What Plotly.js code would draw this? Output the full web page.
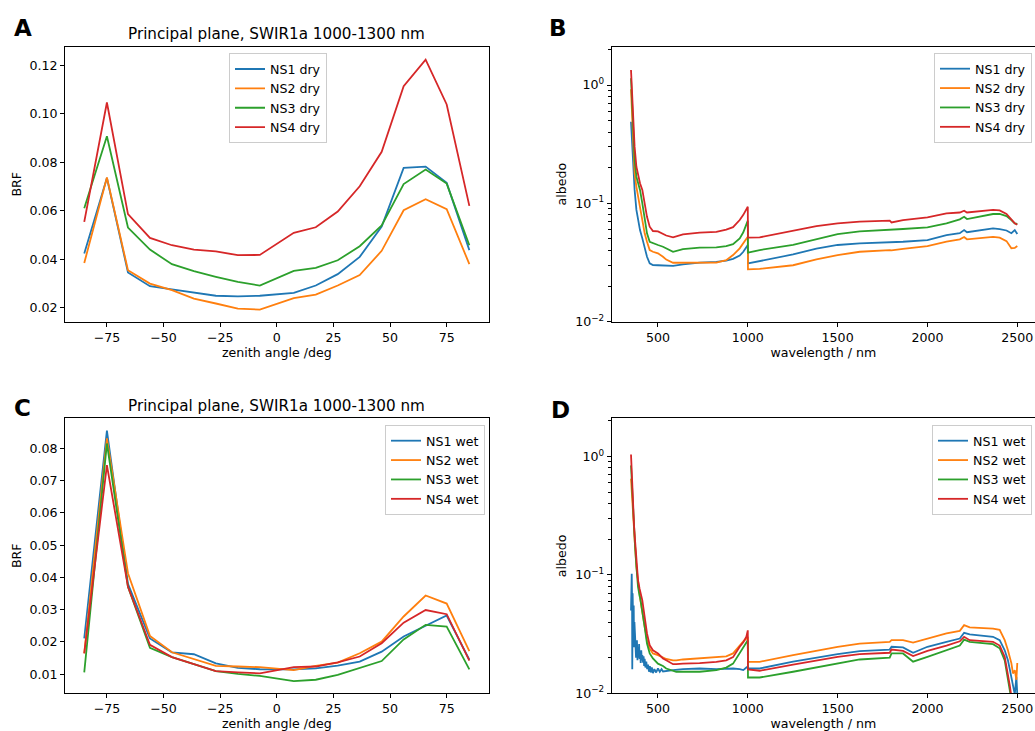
<!DOCTYPE html>
<html>
<head>
<meta charset="utf-8">
<script src="https://cdn.plot.ly/plotly-3.0.1.min.js"></script>
<style>
  html, body { margin: 0; padding: 0; background: #fff; }
  #chart { width: 1035px; height: 731px; }
</style>
</head>
<body>
<div id="chart"></div>
<script>
// ---------- Panel A / C : principal plane BRF ----------
const zenithAngle = [-85, -75, -65.7, -56, -46.3, -36.6, -26.9, -17.2, -7.5, 7.5, 17.2, 26.9, 36.6, 46.3, 56, 65.7, 75, 85];

const ns1Dry = [0.0424, 0.0735, 0.0346, 0.0289, 0.0276, 0.0262, 0.0250, 0.0247, 0.0250, 0.0262, 0.0292, 0.0339, 0.0410, 0.0535, 0.0777, 0.0782, 0.0715, 0.0438];
const ns2Dry = [0.0385, 0.0737, 0.0355, 0.0300, 0.0273, 0.0238, 0.0218, 0.0197, 0.0193, 0.0240, 0.0255, 0.0292, 0.0335, 0.0435, 0.0602, 0.0648, 0.0607, 0.0380];
const ns3Dry = [0.0610, 0.0907, 0.0531, 0.0440, 0.0380, 0.0351, 0.0328, 0.0307, 0.0292, 0.0352, 0.0365, 0.0396, 0.0454, 0.0540, 0.0710, 0.0770, 0.0712, 0.0458];
const ns4Dry = [0.0554, 0.1046, 0.0586, 0.0488, 0.0458, 0.0440, 0.0433, 0.0417, 0.0418, 0.0509, 0.0532, 0.0597, 0.0701, 0.0843, 0.1113, 0.1223, 0.1038, 0.0620];

const ns1Wet = [0.0211, 0.0855, 0.0380, 0.0211, 0.0168, 0.0162, 0.0134, 0.0120, 0.01155, 0.0115, 0.0118, 0.0127, 0.0139, 0.0170, 0.0217, 0.0250, 0.0282, 0.0145];
const ns2Wet = [0.0165, 0.0831, 0.0413, 0.0219, 0.0168, 0.0147, 0.0126, 0.0124, 0.0122, 0.0113, 0.0126, 0.0136, 0.0165, 0.0201, 0.0279, 0.0344, 0.0319, 0.0172];
const ns3Wet = [0.0106, 0.0815, 0.0371, 0.0182, 0.0153, 0.0131, 0.0110, 0.0101, 0.0095, 0.0079, 0.0083, 0.0098, 0.0119, 0.0141, 0.0208, 0.0253, 0.0248, 0.0115];
const ns4Wet = [0.0165, 0.0748, 0.0371, 0.0191, 0.0153, 0.0131, 0.0110, 0.0106, 0.0103, 0.0122, 0.0124, 0.0137, 0.0155, 0.0196, 0.0260, 0.0299, 0.0286, 0.0142];

// ---------- Panel B : dry albedo spectra ----------
const wlDry = [350, 361, 370, 380, 389, 400, 413, 426, 439, 454,
               472, 500, 528, 546, 584, 639, 732, 825, 880, 918,
               955, 975, 1000, 1001, 1066, 1252, 1382, 1500, 1623, 1790,
               1800, 1864, 2000, 2106, 2180, 2204, 2220, 2365, 2402, 2440,
               2467, 2486, 2500];
const albNs1Dry = [0.49, 0.232, 0.13, 0.088, 0.0723, 0.0595, 0.0506, 0.043, 0.0354, 0.0311,
                   0.0301, 0.0300, 0.0298, 0.0297, 0.0296, 0.0305, 0.0316, 0.0320, 0.0328, 0.0340,
                   0.0362, 0.0390, 0.0445, 0.0311, 0.0325, 0.0370, 0.0415, 0.0445, 0.0459, 0.0468,
                   0.0468, 0.0474, 0.0490, 0.0540, 0.0560, 0.0595, 0.0570, 0.0615, 0.0607, 0.0590,
                   0.0560, 0.0595, 0.0550];
const albNs2Dry = [0.92, 0.32, 0.179, 0.138, 0.114, 0.0937, 0.0723, 0.0558, 0.0474, 0.0403,
                   0.0390, 0.0378, 0.0354, 0.0335, 0.0315, 0.0316, 0.0318, 0.0316, 0.0331, 0.0366,
                   0.0417, 0.0460, 0.0523, 0.0277, 0.0280, 0.0300, 0.0336, 0.0366, 0.0390, 0.0403,
                   0.0400, 0.0413, 0.0436, 0.0474, 0.0497, 0.0520, 0.0497, 0.0520, 0.0513, 0.0480,
                   0.0418, 0.0420, 0.0436];
const albNs3Dry = [1.14, 0.39, 0.232, 0.168, 0.148, 0.13, 0.10, 0.0723, 0.0558, 0.0474,
                   0.0460, 0.0445, 0.0430, 0.0417, 0.0390, 0.0410, 0.0422, 0.0425, 0.0435, 0.0452,
                   0.0506, 0.0570, 0.0714, 0.0383, 0.0403, 0.0445, 0.0497, 0.0550, 0.0580, 0.0595,
                   0.0595, 0.0607, 0.0627, 0.0678, 0.0733, 0.0771, 0.0737, 0.0813, 0.0813, 0.0780,
                   0.0723, 0.0678, 0.0670];
const albNs4Dry = [1.34, 0.54, 0.30, 0.204, 0.174, 0.148, 0.130, 0.10, 0.077, 0.0635,
                   0.0584, 0.0580, 0.0550, 0.0535, 0.0516, 0.0547, 0.0565, 0.0575, 0.0600, 0.0630,
                   0.0723, 0.0800, 0.0937, 0.0513, 0.0516, 0.0588, 0.0643, 0.0678, 0.0700, 0.0714,
                   0.0690, 0.0722, 0.0762, 0.0823, 0.0837, 0.0867, 0.0837, 0.0880, 0.0872, 0.0815,
                   0.0723, 0.0678, 0.0660];

// ---------- Panel D : wet albedo spectra ----------
const wlWet = [350, 354, 357, 361, 367, 372, 380, 389, 398, 400,
               407, 413, 417, 426, 435, 439, 454, 472, 500, 528,
               546, 584, 602, 639, 732, 825, 880, 918, 955, 975,
               992, 1000, 1001, 1066, 1252, 1382, 1500, 1623, 1790, 1800,
               1864, 1920, 2000, 2106, 2180, 2204, 2235, 2365, 2402, 2430,
               2448, 2458, 2467, 2476, 2486, 2495, 2500];
// NS1 wet is noisy below ~550 nm, so it has its own, denser wavelength list
const wlNs1Wet = [350, 352, 354, 356, 357, 359, 361, 363, 365, 367,
                  369, 372, 374, 376, 378, 380, 383, 386, 389, 392,
                  395, 398, 401, 404, 407, 410, 413, 417, 420, 423,
                  426, 430, 435, 440, 445, 450, 455, 460, 466, 472,
                  480, 490, 500, 510, 520, 528, 546, 584, 639, 732,
                  825, 880, 918, 955, 975, 992, 1000, 1001, 1066, 1252,
                  1382, 1500, 1623, 1790, 1800, 1864, 1920, 2000, 2106, 2180,
                  2204, 2235, 2365, 2402, 2430, 2448, 2458, 2467, 2476, 2486,
                  2495, 2500];
const albNs1Wet = [0.050, 0.090, 0.102, 0.060, 0.016, 0.070, 0.047, 0.030, 0.055, 0.0245,
                   0.040, 0.032, 0.022, 0.030, 0.020, 0.0217, 0.028, 0.019, 0.0245, 0.020,
                   0.026, 0.0195, 0.023, 0.018, 0.0231, 0.019, 0.021, 0.0181, 0.0205, 0.017,
                   0.0195, 0.0165, 0.0185, 0.0160, 0.0175, 0.0152, 0.0170, 0.0150, 0.0165, 0.0148,
                   0.0160, 0.0150, 0.0162, 0.0152, 0.0160, 0.0153, 0.0155, 0.0157, 0.0160, 0.0162,
                   0.0160, 0.0162, 0.0162, 0.0160, 0.0157, 0.0165, 0.0168, 0.0162, 0.0162, 0.0185,
                   0.0200, 0.0214, 0.0227, 0.0234, 0.0247, 0.0244, 0.0220, 0.0247, 0.0272, 0.0290,
                   0.0324, 0.0314, 0.0300, 0.0281, 0.0231, 0.0190, 0.0160, 0.0138, 0.0120, 0.0098,
                   0.0138, 0.0098];
const albNs2Wet = [0.65, 0.50, 0.40, 0.31, 0.23, 0.18, 0.117, 0.084, 0.067, 0.065,
                   0.055, 0.047, 0.043, 0.0364, 0.031, 0.028, 0.0238, 0.0217, 0.0210, 0.0200,
                   0.0195, 0.0190, 0.0190, 0.0193, 0.0197, 0.0200, 0.0205, 0.0217, 0.0256, 0.0275,
                   0.0290, 0.0300, 0.0184, 0.01845, 0.0210, 0.0228, 0.0247, 0.0263, 0.0272, 0.0281,
                   0.0281, 0.0268, 0.0290, 0.0320, 0.0337, 0.0376, 0.0360, 0.0352, 0.0344, 0.0281,
                   0.0231, 0.0200, 0.0180, 0.0147, 0.0157, 0.0130, 0.0180];
const albNs3Wet = [0.84, 0.60, 0.45, 0.329, 0.24, 0.18, 0.117, 0.079, 0.066, 0.065,
                   0.056, 0.050, 0.045, 0.0364, 0.029, 0.0263, 0.0217, 0.0197, 0.0178, 0.0170,
                   0.0162, 0.0154, 0.0152, 0.0152, 0.0152, 0.0157, 0.0165, 0.0178, 0.0217, 0.0240,
                   0.0270, 0.0280, 0.0136, 0.0136, 0.0152, 0.0165, 0.0179, 0.0193, 0.0200, 0.0217,
                   0.0217, 0.0185, 0.0203, 0.0231, 0.0253, 0.0284, 0.0272, 0.0260, 0.0240, 0.0190,
                   0.0129, 0.0101, 0.0082, 0.0070, 0.0060, 0.0060, 0.0060];
const albNs4Wet = [1.04, 0.70, 0.52, 0.374, 0.26, 0.20, 0.133, 0.090, 0.076, 0.074,
                   0.066, 0.061, 0.055, 0.0442, 0.035, 0.032, 0.0255, 0.0231, 0.0217, 0.0197,
                   0.0190, 0.0176, 0.0176, 0.0178, 0.0180, 0.0184, 0.0190, 0.0202, 0.0247, 0.0270,
                   0.0300, 0.0340, 0.0159, 0.0155, 0.0175, 0.0190, 0.0203, 0.0214, 0.0220, 0.0234,
                   0.0228, 0.0206, 0.0228, 0.0253, 0.0275, 0.0300, 0.0281, 0.0272, 0.0253, 0.0203,
                   0.0147, 0.0117, 0.0094, 0.0080, 0.0070, 0.0070, 0.0070];

// ---------- tick labels ----------
const angleTicks = [-75, -50, -25, 0, 25, 50, 75];
const wlTicks = [500, 1000, 1500, 2000, 2500];
const brfTicksDry = [0.02, 0.04, 0.06, 0.08, 0.10, 0.12];
const brfTicksWet = [0.01, 0.02, 0.03, 0.04, 0.05, 0.06, 0.07, 0.08];
const logTicks = [0.01, 0.1, 1];
const logTickText = ['10<sup>−2</sup>', '10<sup>−1</sup>', '10<sup>0</sup>'];
const logMinorTicks = [0.02, 0.03, 0.04, 0.05, 0.06, 0.07, 0.08, 0.09,
                       0.2, 0.3, 0.4, 0.5, 0.6, 0.7, 0.8, 0.9, 2];

const colors = ['#1f77b4', '#ff7f0e', '#2ca02c', '#d62728'];
const FONT = 'DejaVu Sans, Liberation Sans, sans-serif';
const W = 1035, H = 731;

function line(x, y, name, i, xa, ya, leg) {
  return { x: x, y: y, name: name, type: 'scatter', mode: 'lines',
           line: { color: colors[i], width: 1.8 }, xaxis: xa, yaxis: ya, legend: leg };
}

const data = [
  line(zenithAngle, ns1Dry, 'NS1 dry', 0, 'x', 'y', 'legend'),
  line(zenithAngle, ns2Dry, 'NS2 dry', 1, 'x', 'y', 'legend'),
  line(zenithAngle, ns3Dry, 'NS3 dry', 2, 'x', 'y', 'legend'),
  line(zenithAngle, ns4Dry, 'NS4 dry', 3, 'x', 'y', 'legend'),
  line(wlDry, albNs1Dry, 'NS1 dry', 0, 'x2', 'y2', 'legend2'),
  line(wlDry, albNs2Dry, 'NS2 dry', 1, 'x2', 'y2', 'legend2'),
  line(wlDry, albNs3Dry, 'NS3 dry', 2, 'x2', 'y2', 'legend2'),
  line(wlDry, albNs4Dry, 'NS4 dry', 3, 'x2', 'y2', 'legend2'),
  line(zenithAngle, ns1Wet, 'NS1 wet', 0, 'x3', 'y3', 'legend3'),
  line(zenithAngle, ns2Wet, 'NS2 wet', 1, 'x3', 'y3', 'legend3'),
  line(zenithAngle, ns3Wet, 'NS3 wet', 2, 'x3', 'y3', 'legend3'),
  line(zenithAngle, ns4Wet, 'NS4 wet', 3, 'x3', 'y3', 'legend3'),
  line(wlNs1Wet, albNs1Wet, 'NS1 wet', 0, 'x4', 'y4', 'legend4'),
  line(wlWet, albNs2Wet, 'NS2 wet', 1, 'x4', 'y4', 'legend4'),
  line(wlWet, albNs3Wet, 'NS3 wet', 2, 'x4', 'y4', 'legend4'),
  line(wlWet, albNs4Wet, 'NS4 wet', 3, 'x4', 'y4', 'legend4')
];

const tickFont = { family: FONT, size: 12.6, color: '#000' };
const titleFont = { family: FONT, size: 12.6, color: '#000' };
const baseAxis = {
  showline: true, mirror: true, linecolor: '#000', linewidth: 1,
  ticks: 'outside', ticklen: 4, tickwidth: 1, tickcolor: '#000',
  showgrid: false, zeroline: false, tickfont: tickFont, automargin: false, fixedrange: true
};
function ax(extra) { return Object.assign({}, baseAxis, extra); }

const xA = [65 / W, 488.6 / W];
const xB = [611.7 / W, 1];
const yTop = [(H - 321.7) / H, (H - 46.7) / H];
const yBot = [(H - 693.3) / H, (H - 418.3) / H];

function legendAt(xpx, ypx) {
  return { x: xpx / W, y: (H - ypx) / H, xanchor: 'left', yanchor: 'top',
           bgcolor: 'rgba(255,255,255,0.8)', bordercolor: '#cccccc', borderwidth: 1,
           font: { family: FONT, size: 12.6, color: '#000' }, tracegroupgap: 0 };
}

const subTitle = 'Principal plane, SWIR1a 1000-1300 nm';
const layout = {
  width: W, height: H,
  margin: { l: 0, r: 0, t: 0, b: 0 },
  paper_bgcolor: '#fff', plot_bgcolor: '#fff',
  font: { family: FONT, color: '#000' },
  showlegend: true,
  xaxis: ax({ domain: xA, anchor: 'y', range: [-93.5, 93.5], tickvals: angleTicks,
              title: { text: 'zenith angle /deg', font: titleFont, standoff: 4 } }),
  yaxis: ax({ domain: yTop, anchor: 'x', range: [0.0143, 0.1276], tickvals: brfTicksDry, tickformat: '.2f',
              title: { text: 'BRF', font: titleFont, standoff: 5 } }),
  xaxis2: ax({ domain: xB, anchor: 'y2', range: [242.5, 2598.6], tickvals: wlTicks,
               title: { text: 'wavelength / nm', font: titleFont, standoff: 4 } }),
  yaxis2: ax({ domain: yTop, anchor: 'x2', type: 'log', range: [-2, 0.324],
               tickmode: 'array', tickvals: logTicks, ticktext: logTickText,
               minor: { tickmode: 'array', tickvals: logMinorTicks, ticks: 'outside', ticklen: 2.4, tickwidth: 1, tickcolor: '#000', showgrid: false },
               title: { text: 'albedo', font: titleFont, standoff: 5 } }),
  xaxis3: ax({ domain: xA, anchor: 'y3', range: [-93.5, 93.5], tickvals: angleTicks,
               title: { text: 'zenith angle /deg', font: titleFont, standoff: 4 } }),
  yaxis3: ax({ domain: yBot, anchor: 'x3', range: [0.0041, 0.0893], tickvals: brfTicksWet, tickformat: '.2f',
               title: { text: 'BRF', font: titleFont, standoff: 5 } }),
  xaxis4: ax({ domain: xB, anchor: 'y4', range: [242.5, 2598.6], tickvals: wlTicks,
               title: { text: 'wavelength / nm', font: titleFont, standoff: 4 } }),
  yaxis4: ax({ domain: yBot, anchor: 'x4', type: 'log', range: [-2, 0.322],
               tickmode: 'array', tickvals: logTicks, ticktext: logTickText,
               minor: { tickmode: 'array', tickvals: logMinorTicks, ticks: 'outside', ticklen: 2.4, tickwidth: 1, tickcolor: '#000', showgrid: false },
               title: { text: 'albedo', font: titleFont, standoff: 5 } }),
  legend: legendAt(229, 53.3),
  legend2: legendAt(934, 53),
  legend3: legendAt(385, 425),
  legend4: legendAt(932, 425),
  annotations: [
    { text: subTitle, xref: 'paper', yref: 'paper', x: 276.8 / W, y: (H - 34) / H,
      xanchor: 'center', yanchor: 'middle', showarrow: false, font: { family: FONT, size: 15.2, color: '#000' } },
    { text: subTitle, xref: 'paper', yref: 'paper', x: 276.8 / W, y: (H - 405.7) / H,
      xanchor: 'center', yanchor: 'middle', showarrow: false, font: { family: FONT, size: 15.2, color: '#000' } },
    { text: '<b>A</b>', xref: 'paper', yref: 'paper', x: 23 / W, y: (H - 28.5) / H,
      xanchor: 'center', yanchor: 'middle', showarrow: false, font: { family: FONT, size: 23, color: '#000' } },
    { text: '<b>B</b>', xref: 'paper', yref: 'paper', x: 558 / W, y: (H - 28.5) / H,
      xanchor: 'center', yanchor: 'middle', showarrow: false, font: { family: FONT, size: 23, color: '#000' } },
    { text: '<b>C</b>', xref: 'paper', yref: 'paper', x: 22 / W, y: (H - 407.5) / H,
      xanchor: 'center', yanchor: 'middle', showarrow: false, font: { family: FONT, size: 23, color: '#000' } },
    { text: '<b>D</b>', xref: 'paper', yref: 'paper', x: 560 / W, y: (H - 410) / H,
      xanchor: 'center', yanchor: 'middle', showarrow: false, font: { family: FONT, size: 23, color: '#000' } }
  ]
};

Plotly.newPlot('chart', data, layout, { staticPlot: true, displayModeBar: false });
</script>
</body>
</html>
